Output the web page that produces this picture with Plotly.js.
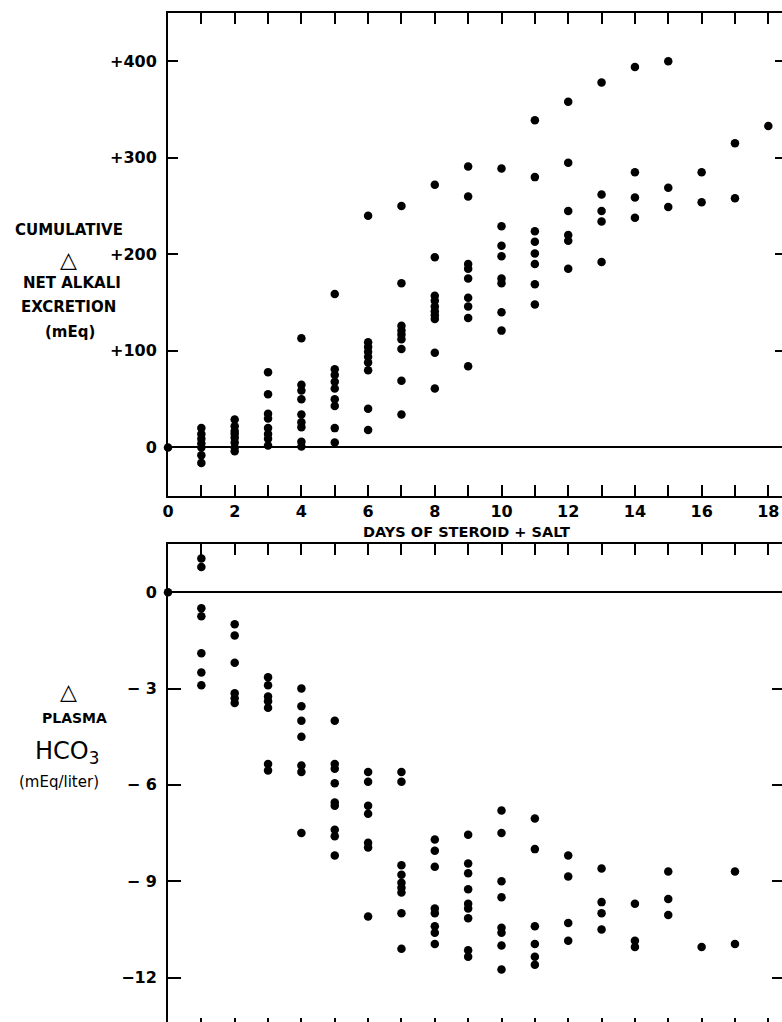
<!DOCTYPE html>
<html>
<head>
<meta charset="utf-8">
<script src="https://cdn.plot.ly/plotly-3.0.1.min.js"></script>
<style>
  html, body { margin: 0; padding: 0; overflow: hidden; background: #fff; }
  #chart { width: 800px; height: 1040px; }
</style>
</head>
<body>
<div id="chart"></div>
<script>
// ---- Data ----
const days = [0,1,2,3,4,5,6,7,8,9,10,11,12,13,14,15,16,17,18];

// Cumulative Δ net alkali excretion (mEq), one list per day
const alkaliByDay = [
  [0],
  [20, 14, 9, 4, 0, -8, -16],
  [29, 22, 17, 14, 10, 5, 0, -4],
  [78, 55, 35, 30, 20, 14, 9, 2],
  [113, 65, 59, 50, 34, 26, 21, 6, 1],
  [159, 81, 75, 68, 61, 50, 43, 20, 5],
  [240, 109, 104, 99, 94, 88, 80, 40, 18],
  [250, 170, 126, 121, 117, 112, 102, 69, 34],
  [272, 197, 157, 152, 146, 141, 137, 133, 98, 61],
  [291, 260, 190, 185, 175, 155, 146, 134, 84],
  [289, 229, 209, 198, 175, 170, 140, 121],
  [339, 280, 224, 213, 201, 190, 169, 148],
  [358, 295, 245, 220, 214, 185],
  [378, 262, 245, 234, 192],
  [394, 285, 259, 238],
  [400, 269, 249],
  [285, 254],
  [315, 258],
  [333]
];

// Δ plasma HCO3 (mEq/liter), one list per day
const hco3ByDay = [
  [0],
  [1.05, 0.78, -0.5, -0.75, -1.9, -2.5, -2.9],
  [-1.0, -1.35, -2.2, -3.15, -3.3, -3.45],
  [-2.65, -2.9, -3.25, -3.4, -3.6, -5.35, -5.55],
  [-3.0, -3.55, -4.0, -4.5, -5.4, -5.6, -7.5],
  [-4.0, -5.35, -5.5, -5.95, -6.55, -6.65, -7.4, -7.6, -8.2],
  [-5.6, -5.9, -6.65, -6.9, -7.8, -7.95, -10.1],
  [-5.6, -5.9, -8.5, -8.8, -9.05, -9.2, -9.35, -10.0, -11.1],
  [-7.7, -8.05, -8.55, -9.85, -10.0, -10.4, -10.6, -10.95],
  [-7.55, -8.45, -8.75, -9.25, -9.7, -9.85, -10.15, -11.15, -11.35],
  [-6.8, -7.5, -9.0, -9.5, -10.45, -10.6, -11.0, -11.75],
  [-7.05, -8.0, -10.4, -10.95, -11.35, -11.6],
  [-8.2, -8.85, -10.3, -10.85],
  [-8.6, -9.65, -10.0, -10.5],
  [-9.7, -10.85, -11.05],
  [-8.7, -9.55, -10.05],
  [-11.05],
  [-8.7, -10.95],
  []
];

// Tick labels
const dayLabelVals = [0, 2, 4, 6, 8, 10, 12, 14, 16, 18];
const dayLabelText = ['0', '2', '4', '6', '8', '10', '12', '14', '16', '18'];
const alkaliTickVals = [0, 100, 200, 300, 400];
const alkaliTickText = ['0', '+100', '+200', '+300', '+400'];
const hco3TickVals = [0, -3, -6, -9, -12];
const hco3TickText = ['0', '\u2212 3', '\u2212 6', '\u2212 9', '\u221212'];

// ---- Build traces ----
function flatten(byDay) {
  const xs = [], ys = [];
  byDay.forEach((vals, i) => vals.forEach(v => { xs.push(days[i]); ys.push(v); }));
  return {xs, ys};
}
const a = flatten(alkaliByDay);
const h = flatten(hco3ByDay);

const marker = {color: '#000', size: 8.5, line: {width: 0}};
const traces = [
  {x: a.xs, y: a.ys, type: 'scatter', mode: 'markers', marker, xaxis: 'x', yaxis: 'y', cliponaxis: false, hoverinfo: 'skip'},
  {x: h.xs, y: h.ys, type: 'scatter', mode: 'markers', marker, xaxis: 'x2', yaxis: 'y2', cliponaxis: false, hoverinfo: 'skip'}
];

const FONT = 'DejaVu Sans, Verdana, sans-serif';
const tickFont = {family: FONT, size: 16, color: '#000', weight: 'bold'};

const baseX = {
  range: [0, 18.5],
  tickmode: 'array',
  tickvals: dayLabelVals,
  ticks: 'inside',
  ticklen: 11,
  tickwidth: 2,
  tickcolor: '#000',
  minor: {dtick: 1, tick0: 0, ticks: 'inside', ticklen: 11, tickwidth: 2, tickcolor: '#000', showgrid: false},
  showline: true,
  linewidth: 2,
  linecolor: '#000',
  mirror: 'ticks',
  showgrid: false,
  zeroline: false,
  fixedrange: true
};

const layout = {
  width: 800,
  height: 1040,
  margin: {l: 168, r: 15, t: 13, b: 11},
  paper_bgcolor: '#fff',
  plot_bgcolor: '#fff',
  showlegend: false,
  font: {family: FONT, color: '#000'},
  xaxis: Object.assign({}, baseX, {
    anchor: 'y',
    ticktext: dayLabelText,
    tickfont: tickFont,
    ticklabelstandoff: 0
  }),
  yaxis: {
    domain: [0.5249, 1],
    anchor: 'x',
    range: [-50, 450],
    tickmode: 'array',
    tickvals: alkaliTickVals,
    ticktext: alkaliTickText,
    tickfont: tickFont,
    ticks: 'inside',
    ticklen: 10,
    tickwidth: 2,
    tickcolor: '#000',
    showline: true,
    linewidth: 2,
    linecolor: '#000',
    mirror: 'ticks',
    showgrid: false,
    zeroline: true,
    zerolinewidth: 2,
    zerolinecolor: '#000',
    ticklabelstandoff: 6,
    fixedrange: true
  },
  xaxis2: Object.assign({}, baseX, {
    anchor: 'y2',
    ticktext: dayLabelText,
    showticklabels: false
  }),
  yaxis2: {
    domain: [0, 0.4774],
    anchor: 'x2',
    range: [-13.6, 1.5],
    tickmode: 'array',
    tickvals: hco3TickVals,
    ticktext: hco3TickText,
    tickfont: tickFont,
    ticks: 'inside',
    ticklen: 13,
    tickwidth: 2,
    tickcolor: '#000',
    showline: true,
    linewidth: 2,
    linecolor: '#000',
    mirror: 'ticks',
    showgrid: false,
    zeroline: true,
    zerolinewidth: 2,
    zerolinecolor: '#000',
    ticklabelstandoff: 6,
    fixedrange: true
  },
  annotations: [
    {text: 'CUMULATIVE', x: -0.161, y: 0.7864, size: 15},
    {text: '\u25B3', x: -0.161, y: 0.7569, size: 22},
    {text: 'NET ALKALI', x: -0.155, y: 0.7343, size: 15},
    {text: 'EXCRETION', x: -0.162, y: 0.7106, size: 15},
    {text: '(mEq)', x: -0.159, y: 0.6860, size: 15},
    {text: 'DAYS OF STEROID + SALT', x: 0.483, y: 0.4985, size: 14.5, ya: 'top'},
    {text: '\u25B3', x: -0.161, y: 0.3317, size: 22},
    {text: 'PLASMA', x: -0.151, y: 0.3061, size: 14},
    {text: 'HCO<sub>3</sub>', x: -0.163, y: 0.2726, size: 24, weight: 'normal'},
    {text: '(mEq/liter)', x: -0.177, y: 0.2431, size: 15, weight: 'normal'}
  ].map(o => ({
    text: o.text, x: o.x, y: o.y, xref: 'paper', yref: 'paper',
    xanchor: 'center', yanchor: o.ya || 'middle', showarrow: false, borderpad: 0,
    font: {family: FONT, size: o.size, color: '#000', weight: o.weight || 'bold'}
  }))
};

Plotly.newPlot('chart', traces, layout, {staticPlot: true, displayModeBar: false});
</script>
</body>
</html>
